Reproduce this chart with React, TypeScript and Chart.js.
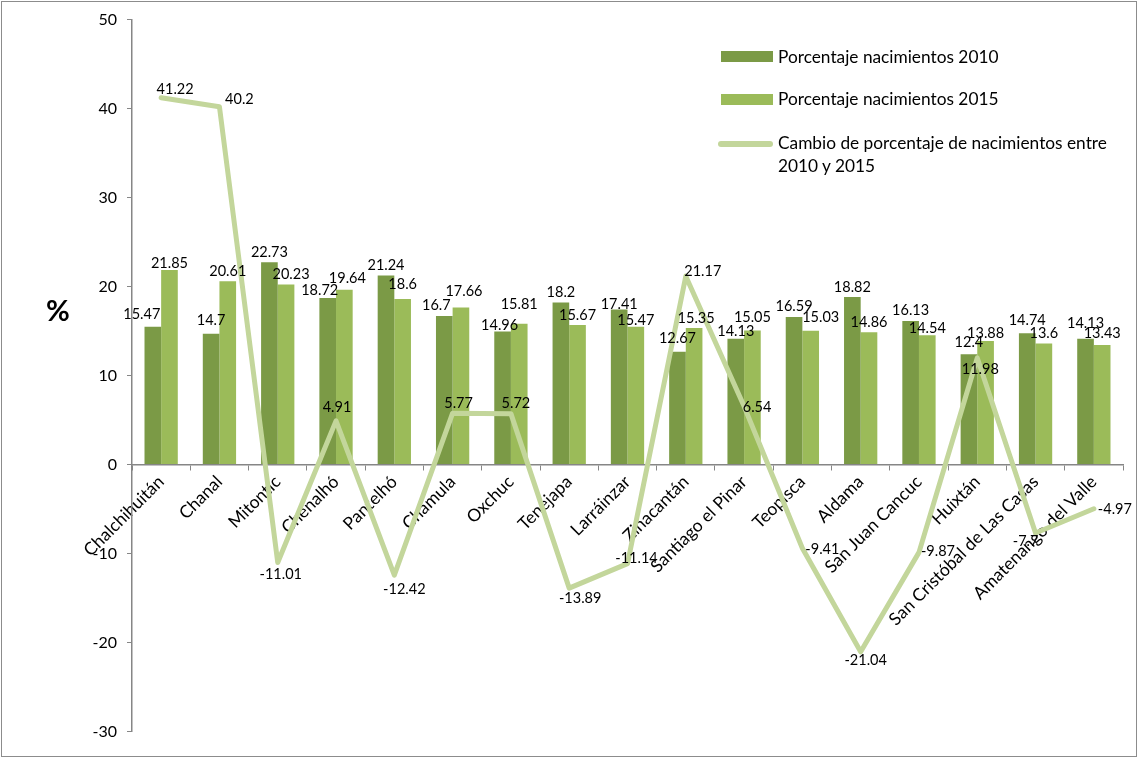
import React, { useEffect, useRef } from 'react';
import { Chart, registerables } from 'chart.js';

Chart.register(...registerables);

const CATEGORIES = [
  'Chalchihuitán', 'Chanal', 'Mitontic', 'Chenalhó', 'Pantelhó', 'Chamula', 'Oxchuc', 'Tenejapa',
  'Larráinzar', 'Zinacantán', 'Santiago el Pinar', 'Teopisca', 'Aldama', 'San Juan Cancuc',
  'Huixtán', 'San Cristóbal de Las Casas', 'Amatenango del Valle',
];
const NAC_2010 = [15.47, 14.7, 22.73, 18.72, 21.24, 16.7, 14.96, 18.2, 17.41, 12.67, 14.13, 16.59, 18.82, 16.13, 12.4, 14.74, 14.13];
const NAC_2015 = [21.85, 20.61, 20.23, 19.64, 18.6, 17.66, 15.81, 15.67, 15.47, 15.35, 15.05, 15.03, 14.86, 14.54, 13.88, 13.6, 13.43];
const CAMBIO = [41.22, 40.2, -11.01, 4.91, -12.42, 5.77, 5.72, -13.89, -11.14, 21.17, 6.54, -9.41, -21.04, -9.87, 11.98, -7.7, -4.97];
const Y_MIN = -30;
const Y_MAX = 50;
const Y_STEP = 10;

const LEGEND_2010 = 'Porcentaje nacimientos 2010';
const LEGEND_2015 = 'Porcentaje nacimientos 2015';
const LEGEND_CAMBIO_1 = 'Cambio de porcentaje de nacimientos entre';
const LEGEND_CAMBIO_2 = '2010 y 2015';
const Y_TITLE = '%';

// label placement tweaks (style only), [dx, dy] from the mark's anchor
const OFF_2010: [number, number][] = [
  [-11, -13], [0, -13], [0, -10], [-8, -8], [0, -10], [-8, -11], [-3, -6], [0, -10], [0, -5],
  [0, -13], [0, -7], [0, -11], [0, -10], [0, -11], [0, -12], [0, -13], [0, -15],
];
const OFF_2015: [number, number][] = [
  [0, -7], [0, -10], [5, -10], [3, -11], [0, -15], [3, -16], [0, -20], [0, -10], [0, -7],
  [2, -10], [0, -13], [10, -13], [0, -10], [0, -7], [0, -8], [0, -10], [0, -12],
];
const OFF_CAMBIO: [number, number][] = [
  [14, -8], [20, -7], [3, 12], [1, -14], [10, 14], [6, -10], [5, -10], [11, 10], [9, -5],
  [17, -5], [13, 1], [20, 1], [5, 9], [19, -1], [3, 11], [-10, 8], [21, 1],
];
const OFFSETS = [OFF_2010, OFF_2015, OFF_CAMBIO];

const C_2010 = '#7b9a46';
const C_2015 = '#9bbb59';
const C_LINE = '#c3d69b';
const AXIS = '#868686';
const FONT = 'Lato, "Open Sans", sans-serif';

const valueLabels = {
  id: 'valueLabels',
  afterDatasetsDraw(chart: any) {
    const ctx = chart.ctx;
    ctx.save();
    ctx.font = `14.5px ${FONT}`;
    ctx.fillStyle = '#000';
    ctx.textAlign = 'center';
    ctx.textBaseline = 'middle';
    chart.data.datasets.forEach((ds: any, di: number) => {
      const meta = chart.getDatasetMeta(di);
      const offs = OFFSETS[di];
      meta.data.forEach((el: any, i: number) => {
        const [dx, dy] = offs[i] || [0, -10];
        ctx.fillText(String(ds.data[i]), el.x + dx, el.y + dy);
      });
    });
    ctx.restore();
  },
};

export default function App() {
  const ref = useRef<HTMLCanvasElement | null>(null);

  useEffect(() => {
    if (!ref.current) return;
    const chart = new Chart(ref.current, {
      type: 'bar',
      data: {
        labels: CATEGORIES,
        datasets: [
          {
            type: 'bar',
            label: LEGEND_2010,
            data: NAC_2010,
            backgroundColor: C_2010,
            borderWidth: 0,
            categoryPercentage: 0.571,
            barPercentage: 1.0,
            order: 2,
          },
          {
            type: 'bar',
            label: LEGEND_2015,
            data: NAC_2015,
            backgroundColor: C_2015,
            borderWidth: 0,
            categoryPercentage: 0.571,
            barPercentage: 1.0,
            order: 2,
          },
          {
            type: 'line',
            label: LEGEND_CAMBIO_1 + ' ' + LEGEND_CAMBIO_2,
            data: CAMBIO,
            borderColor: C_LINE,
            backgroundColor: C_LINE,
            borderWidth: 5,
            pointRadius: 0,
            tension: 0,
            borderJoinStyle: 'round',
            borderCapStyle: 'round',
            order: 1,
          } as any,
        ],
      },
      options: {
        responsive: false,
        animation: false,
        layout: { padding: { top: 19, right: 15, bottom: 26.5, left: 0 } },
        plugins: {
          legend: { display: false },
          tooltip: { enabled: false },
          title: { display: false },
        },
        scales: {
          x: {
            position: { y: 0 } as any,
            offset: true,
            grid: {
              display: true,
              drawOnChartArea: false,
              drawTicks: true,
              tickLength: 5,
              color: AXIS,
              offset: true,
            },
            border: { display: true, color: AXIS, width: 1.5 },
            ticks: {
              autoSkip: false,
              maxRotation: 45,
              minRotation: 45,
              color: '#000',
              padding: 2,
              font: { size: 17.5, family: FONT },
            },
          },
          y: {
            min: Y_MIN,
            max: Y_MAX,
            ticks: {
              stepSize: Y_STEP,
              color: '#000',
              padding: 10,
              font: { size: 16, family: FONT },
            },
            grid: {
              display: true,
              drawOnChartArea: false,
              drawTicks: true,
              tickLength: 5,
              color: AXIS,
            },
            border: { display: true, color: AXIS, width: 1.5 },
            afterFit: (s: any) => {
              s.width = 132;
            },
          },
        },
      } as any,
      plugins: [valueLabels],
    });
    return () => chart.destroy();
  }, []);

  const txt: React.CSSProperties = {
    position: 'absolute',
    fontFamily: FONT,
    fontSize: 17.3,
    color: '#000',
    whiteSpace: 'nowrap',
    lineHeight: '20px',
  };

  return (
    <div style={{ position: 'absolute', left: 0, top: 0, width: 1138, height: 758, background: '#fff', overflow: 'hidden' }}>
      <canvas ref={ref} width={1138} height={758} style={{ position: 'absolute', left: 0, top: 0, width: 1138, height: 758 }} />
      <div style={{ position: 'absolute', left: 1, top: 1, width: 1134, height: 754, border: '1px solid #8c8c8c', pointerEvents: 'none' }} />
      <div style={{ position: 'absolute', left: 721, top: 51, width: 52, height: 11, background: C_2010 }} />
      <div style={{ ...txt, left: 778, top: 47 }}>{LEGEND_2010}</div>
      <div style={{ position: 'absolute', left: 721, top: 94, width: 52, height: 11, background: C_2015 }} />
      <div style={{ ...txt, left: 778, top: 89 }}>{LEGEND_2015}</div>
      <div style={{ position: 'absolute', left: 718, top: 141, width: 55, height: 6, borderRadius: 3, background: C_LINE }} />
      <div style={{ ...txt, left: 778, top: 132, lineHeight: '22.5px' }}>
        {LEGEND_CAMBIO_1}
        <br />
        {LEGEND_CAMBIO_2}
      </div>
      <div style={{ position: 'absolute', left: 46, top: 294, fontFamily: FONT, fontWeight: 700, fontSize: 29, lineHeight: '32px', color: '#000' }}>
        {Y_TITLE}
      </div>
    </div>
  );
}
